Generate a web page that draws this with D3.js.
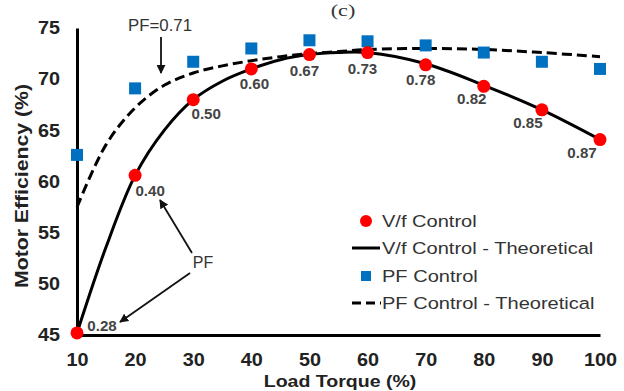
<!DOCTYPE html>
<html><head><meta charset="utf-8">
<script src="https://cdn.jsdelivr.net/npm/d3@7"></script>
<style>body{margin:0;background:#fff}svg{display:block}</style>
</head><body><svg id="c" width="624" height="391"></svg>
<script>
// ---- data ----
const loadTorque = [10, 20, 30, 40, 50, 60, 70, 80, 90, 100];
const vfControl = [45.2, 60.6, 68.0, 71.0, 72.4, 72.6, 71.4, 69.3, 67.0, 64.1];
const pfControl = [62.6, 69.1, 71.7, 73.0, 73.8, 73.7, 73.3, 72.6, 71.7, 71.0];
const powerFactor = ["0.28", "0.40", "0.50", "0.60", "0.67", "0.73", "0.78", "0.82", "0.85", "0.87"];
const theoryTorque = [10, 15, 20, 25, 30, 35, 40, 45, 50, 55, 60, 70, 80, 90, 100];
const vfTheoretical = [45.2, 53.6, 60.6, 65.0, 68.0, 69.8, 71.0, 71.9, 72.4, 72.6, 72.6, 71.5, 69.4, 67.0, 64.1];
const pfTheoretical = [57.5, 63.6, 67.2, 69.4, 70.6, 71.3, 71.8, 72.2, 72.5, 72.7, 72.9, 73.0, 72.9, 72.6, 72.2];
const xTicks = [10, 20, 30, 40, 50, 60, 70, 80, 90, 100];
const yTicks = [45, 50, 55, 60, 65, 70, 75];
const seriesNames = ["V/f Control", "V/f Control - Theoretical", "PF Control", "PF Control - Theoretical"];
// layout offsets of PF labels (px, relative to dot)
const labelOffsets = [[25,-7],[15,16],[13,14],[3,15],[-5,16],[-5,17],[-5,15],[-12,13],[-14,13],[-18,14]];

const svg = d3.select("#c");
const FONT = "Arial, 'Liberation Sans', sans-serif";
const x = d3.scaleLinear().domain([10, 100]).range([77, 600]);
const y = d3.scaleLinear().domain([45, 75]).range([335, 28]);

function stretchText(sel, sx) {
  sel.each(function() {
    const t = d3.select(this);
    const tx = +t.attr("x") || 0, ty = +t.attr("y") || 0;
    t.attr("x", 0).attr("y", 0).attr("transform", `translate(${tx},${ty}) scale(${sx},1)`);
  });
}

// axes
const xAxis = svg.append("g").attr("transform", "translate(0,335)")
  .call(d3.axisBottom(x).tickValues(xTicks).tickSize(0).tickPadding(18).tickFormat(d3.format("d")));
const yAxis = svg.append("g").attr("transform", "translate(77,0)")
  .call(d3.axisLeft(y).tickValues(yTicks).tickSize(0).tickPadding(17).tickFormat(d3.format("d")));
[xAxis, yAxis].forEach(g => {
  g.select(".domain").attr("stroke", "#000").attr("stroke-width", 3);
  g.selectAll("text").attr("font-family", FONT).attr("font-size", 18).attr("font-weight", "bold").attr("fill", "#222");
  stretchText(g.selectAll("text"), 1.1);
});

// axis titles
svg.append("text").attr("font-family", FONT).attr("font-size", 17).attr("font-weight", "bold").attr("fill", "#222")
  .attr("text-anchor", "middle").attr("transform", "translate(340,387) scale(1.15,1)").text("Load Torque (%)");
svg.append("text").attr("font-family", FONT).attr("font-size", 18).attr("font-weight", "bold").attr("fill", "#222")
  .attr("text-anchor", "middle").attr("transform", "translate(28,186) rotate(-90) scale(1.18,1)").text("Motor Efficiency (%)");
svg.append("text").attr("font-family", "'Liberation Serif', 'Times New Roman', serif").attr("font-size", 17)
  .attr("fill", "#333").attr("text-anchor", "middle")
  .attr("transform", "translate(343,16) scale(1.3,1)").text("(c)");

// theoretical curves
const line = d3.line().x(d => x(d[0])).y(d => y(d[1])).curve(d3.curveCatmullRom.alpha(0.5));
svg.append("path").datum(theoryTorque.map((t, i) => [t, pfTheoretical[i]]))
  .attr("d", line).attr("fill", "none").attr("stroke", "#000").attr("stroke-width", 3).attr("stroke-dasharray", "10,5");
svg.append("path").datum(theoryTorque.map((t, i) => [t, vfTheoretical[i]]))
  .attr("d", line).attr("fill", "none").attr("stroke", "#000").attr("stroke-width", 3);

// PF control squares
const sq = 12;
svg.append("g").selectAll("rect").data(loadTorque.map((t, i) => [t, pfControl[i]])).join("rect")
  .attr("x", d => x(d[0]) - sq / 2).attr("y", d => y(d[1]) - sq / 2).attr("width", sq).attr("height", sq)
  .attr("fill", "#0070c0");
// V/f control dots
svg.append("g").selectAll("circle").data(loadTorque.map((t, i) => [t, vfControl[i]])).join("circle")
  .attr("cx", d => x(d[0])).attr("cy", d => y(d[1])).attr("r", 6.5).attr("fill", "#ff0000");

// PF labels
const lab = svg.append("g").selectAll("text").data(loadTorque.map((t, i) => [t, vfControl[i], powerFactor[i], labelOffsets[i]])).join("text")
  .attr("x", d => x(d[0]) + d[3][0]).attr("y", d => y(d[1]) + d[3][1]).attr("dy", "0.35em")
  .attr("text-anchor", "middle").attr("font-family", FONT).attr("font-size", 14).attr("font-weight", "bold")
  .attr("fill", "#444").text(d => d[2]);
stretchText(lab, 1.08);

// arrow marker
svg.append("defs").append("marker").attr("id", "ah").attr("viewBox", "0 0 10 10").attr("refX", 9).attr("refY", 5)
  .attr("markerWidth", 9).attr("markerHeight", 9).attr("markerUnits", "userSpaceOnUse").attr("orient", "auto")
  .append("path").attr("d", "M0,0L10,5L0,10z").attr("fill", "#111");
const arrows = [[161, 37, 161, 73], [192, 253, 160, 200], [190, 273, 120, 322]];
svg.append("g").selectAll("line").data(arrows).join("line")
  .attr("x1", d => d[0]).attr("y1", d => d[1]).attr("x2", d => d[2]).attr("y2", d => d[3])
  .attr("stroke", "#111").attr("stroke-width", 1.8).attr("marker-end", "url(#ah)");
svg.append("text").attr("font-family", FONT).attr("font-size", 16).attr("fill", "#333").attr("text-anchor", "middle")
  .attr("transform", "translate(160,31) scale(1.05,1)").text("PF=0.71");
svg.append("text").attr("font-family", FONT).attr("font-size", 16).attr("fill", "#333").attr("text-anchor", "middle")
  .attr("x", 203).attr("y", 268).text("PF");

// legend
const legY = [221, 248, 276, 303];
const leg = svg.append("g");
leg.append("circle").attr("cx", 366).attr("cy", legY[0]).attr("r", 6).attr("fill", "#ff0000");
leg.append("line").attr("x1", 352).attr("x2", 380).attr("y1", legY[1]).attr("y2", legY[1]).attr("stroke", "#000").attr("stroke-width", 3);
leg.append("rect").attr("x", 361).attr("y", legY[2] - 5).attr("width", 10).attr("height", 10).attr("fill", "#0070c0");
leg.append("line").attr("x1", 352).attr("x2", 381).attr("y1", legY[3]).attr("y2", legY[3]).attr("stroke", "#000").attr("stroke-width", 3).attr("stroke-dasharray", "9,5");
leg.selectAll("text").data(seriesNames).join("text")
  .attr("transform", (d, i) => `translate(382,${legY[i]}) scale(1.18,1)`).attr("dy", "0.35em")
  .attr("font-family", FONT).attr("font-size", 17).attr("fill", "#333").text(d => d);
</script></body></html>
